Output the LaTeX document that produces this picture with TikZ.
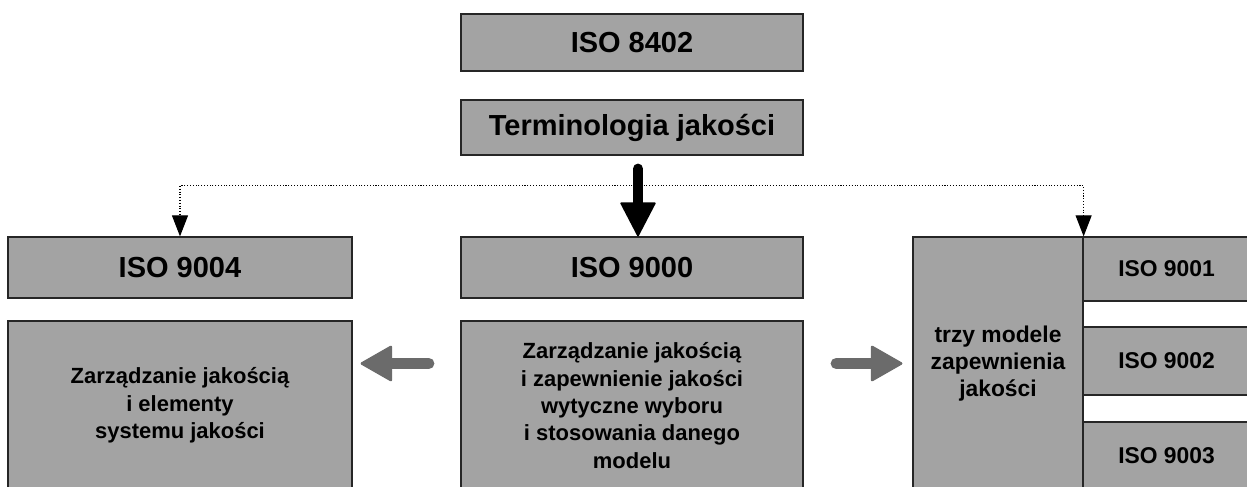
\documentclass[tikz,border=0pt]{standalone}
\usepackage{fontspec}
\setmainfont{Liberation Sans}
\usetikzlibrary{arrows.meta, positioning}

\definecolor{dither}{gray}{0.64}
\definecolor{arrowgray}{gray}{0.42}

\tikzset{
  box/.style={draw=black!85, line width=0.7pt, fill=dither, inner sep=0pt},
  bigtxt/.style={font=\fontsize{16.5}{20}\selectfont\bfseries},
  sidetxt/.style={font=\fontsize{13}{15.4}\selectfont\bfseries, align=center},
  lowtxt/.style={font=\fontsize{12.5}{15.6}\selectfont\bfseries, align=center},
  dotlink/.style={densely dotted, line width=0.6pt, -{Triangle[width=0.32cm,length=0.42cm]}},
  fatlink/.style={line width=0.2cm, line cap=round, -{Triangle[width=0.72cm,length=0.7cm,line width=1pt,round]}},
  greylink/.style={draw=arrowgray, fill=arrowgray, line width=0.22cm, line cap=round,
    -{Triangle[width=0.74cm,length=0.66cm,line width=1.5pt,round]}}
}

\begin{document}
\begin{tikzpicture}
  \useasboundingbox (0,0) rectangle (24.94,-9.74);

  \node[box, bigtxt, minimum width=6.84cm, minimum height=1.14cm] (iso8402) at (12.64,-0.85) {ISO 8402};
  \node[box, bigtxt, minimum width=6.84cm, minimum height=1.10cm] (terms) at (12.64,-2.55) {Terminologia jakości};

  \node[box, bigtxt, minimum width=6.88cm, minimum height=1.22cm] (iso9004) at (3.60,-5.35) {ISO 9004};
  \node[box, bigtxt, minimum width=6.84cm, minimum height=1.22cm] (iso9000) at (12.64,-5.35) {ISO 9000};

  \node[box, lowtxt, minimum width=6.88cm, minimum height=3.38cm] (elements) at (3.60,-8.11) {Zarządzanie jakością\\i elementy\\systemu jakości};
  \node[box, lowtxt, minimum width=6.84cm, minimum height=3.38cm] (guide) at (12.64,-8.11) {Zarządzanie jakością\\i zapewnienie jakości\\wytyczne wyboru\\i stosowania danego\\modelu};

  \node[box, sidetxt, minimum width=3.40cm, minimum height=5.06cm] (models) at (19.96,-7.27) {trzy modele\\zapewnienia\\jakości};
  \node[box, sidetxt, minimum width=3.34cm, minimum height=1.28cm] (iso9001) at (23.33,-5.38) {ISO 9001};
  \node[box, sidetxt, minimum width=3.34cm, minimum height=1.36cm] (iso9002) at (23.33,-7.22) {ISO 9002};
  \node[box, sidetxt, minimum width=3.34cm, minimum height=1.36cm] (iso9003) at (23.33,-9.12) {ISO 9003};

  \coordinate (fork) at ([xshift=0.12cm,yshift=-0.6cm]terms.south);
  \draw[dotlink] (fork) -| (iso9004.north);
  \draw[dotlink] (fork) -| (models.north east);

  \draw[fatlink, shorten <=0.26cm] ([xshift=0.12cm]terms.south) -- ([xshift=0.12cm]iso9000.north);

  \draw[greylink, shorten <=0.63cm, shorten >=0.16cm] (guide.west |- models.west) -- (elements.east |- models.west);
  \draw[greylink, shorten <=0.65cm, shorten >=0.2cm] (guide.east |- models.west) -- (models.west);
\end{tikzpicture}
\end{document}
